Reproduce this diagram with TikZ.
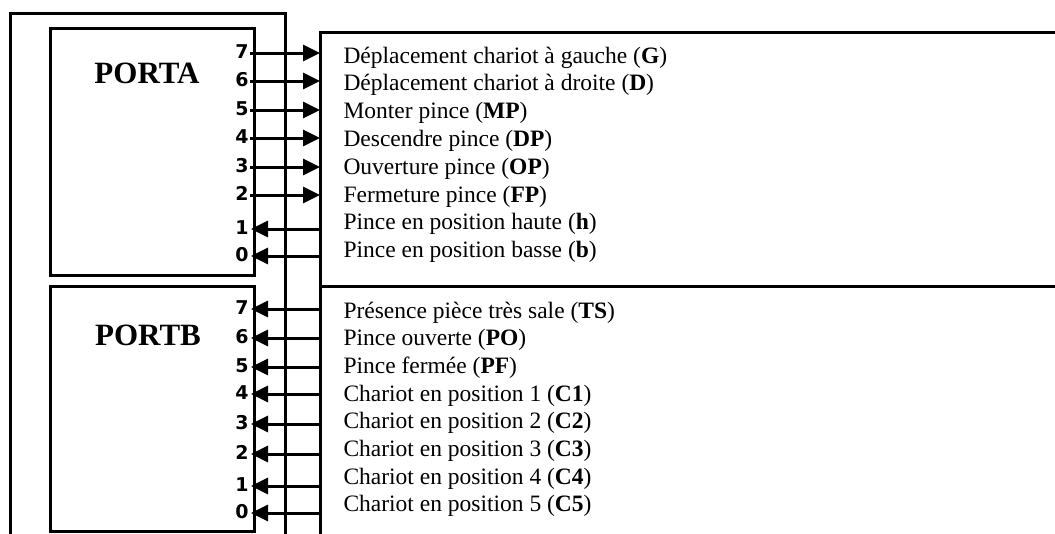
\documentclass[tikz,border=0pt]{standalone}
\usepackage{fontspec}
\setmainfont{Liberation Serif}
\newfontfamily\pinfont{DejaVu Sans}
\usetikzlibrary{arrows.meta}

\begin{document}
\begin{tikzpicture}[x=1pt,y=-1pt,line width=3pt,
  sigline/.style={line width=3pt,-{Triangle[length=17pt,width=16pt]}},
  pinlbl/.style={anchor=east,inner sep=0pt,font=\pinfont\bfseries\fontsize{19}{19}\selectfont},
  itemtxt/.style={anchor=base west,inner sep=0pt,font=\fontsize{23.5}{28}\selectfont},
  portname/.style={inner sep=0pt,font=\bfseries\fontsize{31}{31}\selectfont},
  portbox/.style={draw,anchor=north west,inner sep=0pt,minimum width=204pt}]
\useasboundingbox (0,0) rectangle (1055,533);
\fill[white] (0,0) rectangle (1055,533);

% microcontroller frame (continues below the picture)
\draw (10,540) -- (10,13) -- (285,13) -- (285,540);

% the two ports
\node[portbox,minimum height=247pt] (porta) at (49,27) {};
\node[portbox,minimum height=245pt] (portb) at (49,285) {};
\node[portname] (ta) at (147,73) {PORTA};
\node[portname] (tb) at (148,335) {PORTB};

% process side: panel with outputs above and inputs below
\draw (320,540) -- (320,32) -- (1060,32);
\draw (320,286) -- (1060,286);

% PORTA: bits 7..2 are outputs
\foreach \b/\y/\tb/\t in {
  7/53/63/{D\'eplacement chariot \`a gauche (\textbf{G})},
  6/81/90.8/{D\'eplacement chariot \`a droite (\textbf{D})},
  5/110/118.6/{Monter pince (\textbf{MP})},
  4/138/146.4/{Descendre pince (\textbf{DP})},
  3/167/174.2/{Ouverture pince (\textbf{OP})},
  2/195/202/{Fermeture pince (\textbf{FP})}}{
  \coordinate (pa\b) at (250,\y);
  \coordinate (qa\b) at (320,\y);
  \node[pinlbl] (la\b) at (250,{\y-1.5}) {\b};
  \node[itemtxt] (xa\b) at (342,\tb) {\t};
  \draw[sigline] (pa\b) -- (qa\b);
}

% PORTA: bits 1..0 are inputs
\foreach \b/\y/\tb/\t in {
  1/229/229.8/{Pince en position haute (\textbf{h})},
  0/256/257.6/{Pince en position basse (\textbf{b})}}{
  \coordinate (pa\b) at (251,\y);
  \coordinate (qa\b) at (320,\y);
  \node[pinlbl] (la\b) at (250,{\y-1.5}) {\b};
  \node[itemtxt] (xa\b) at (342,\tb) {\t};
  \draw[sigline] (qa\b) -- (pa\b);
}

% PORTB: all bits are inputs
\foreach \b/\y/\tb/\t in {
  7/309/318/{Pr\'esence pi\`ece tr\`es sale (\textbf{TS})},
  6/338/345.7/{Pince ouverte (\textbf{PO})},
  5/367/373.4/{Pince ferm\'ee (\textbf{PF})},
  4/394/401.1/{Chariot en position 1 (\textbf{C1})},
  3/424/428.8/{Chariot en position 2 (\textbf{C2})},
  2/454/456.5/{Chariot en position 3 (\textbf{C3})},
  1/486/484.2/{Chariot en position 4 (\textbf{C4})},
  0/513/511.9/{Chariot en position 5 (\textbf{C5})}}{
  \coordinate (pb\b) at (251,\y);
  \coordinate (qb\b) at (320,\y);
  \node[pinlbl] (lb\b) at (250,{\y-1.5}) {\b};
  \node[itemtxt] (xb\b) at (342,\tb) {\t};
  \draw[sigline] (qb\b) -- (pb\b);
}
\end{tikzpicture}
\end{document}
